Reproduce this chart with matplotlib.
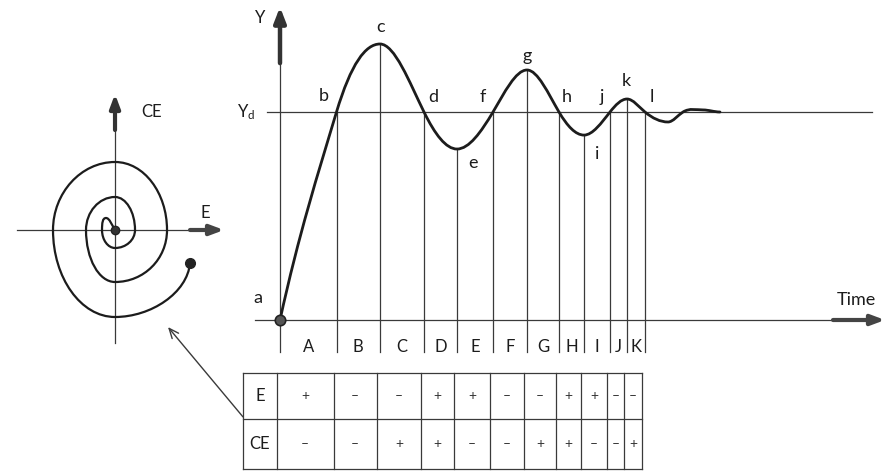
import matplotlib
matplotlib.use("Agg")
import matplotlib.pyplot as plt
import numpy as np
from matplotlib.path import Path
from matplotlib.patches import PathPatch

plt.rcParams['font.family'] = ['Lato', 'DejaVu Sans']

# --- response curve: key points (time units, Y relative to Yd = 1) ---
curve_labels = ['a', 'b', 'c', 'd', 'e', 'f', 'g', 'h', 'i', 'j', 'k', 'l']
curve_t = [0.0, 5.65, 10.0, 14.4, 17.7, 21.3, 24.7, 27.9, 30.4, 33.0, 34.7, 36.5, 38.8, 40.3, 42.3, 44.0]
curve_y = [0.0, 1.0, 1.327, 1.0, 0.822, 1.0, 1.202, 1.0, 0.889, 1.0, 1.0625, 1.0, 0.952, 1.0, 1.01, 1.0]
curve_slope = [0.22, 0.16, 0.0, -0.098, 0.0, 0.081, 0.0, -0.082, 0.0, 0.061, 0.0, -0.040, 0.0, 0.03, 0.0, 0.0]

# label positions for the curve letters
label_t = [-2.2, 4.4, 10.1, 15.3, 19.3, 20.3, 24.7, 28.7, 31.7, 32.2, 34.6, 37.2]
label_y = [0.106, 1.077, 1.41, 1.07, 0.755, 1.07, 1.27, 1.07, 0.80, 1.07, 1.15, 1.07]

# --- intervals and sign table ---
intervals = ['A', 'B', 'C', 'D', 'E', 'F', 'G', 'H', 'I', 'J', 'K']
e_signs = ['+', '\u2013', '\u2013', '+', '+', '\u2013', '\u2013', '+', '+', '\u2013', '\u2013']
ce_signs = ['\u2013', '\u2013', '+', '+', '\u2013', '\u2013', '+', '+', '\u2013', '\u2013', '+']

# --- phase plane spiral: nodes (E, CE) with tangent direction (deg) ---
spiral_e = [7.5, 0.0, -6.2, 0.0, 5.2, 0.0, -2.9, 0.0, 2.0, 0.0, -1.3, -0.9, 0.0]
spiral_ce = [-3.3, -8.7, 0.0, 6.8, 0.0, -5.2, 0.0, 3.3, 0.0, -1.8, 0.0, 1.2, 0.0]
spiral_dir = [-95, 180, 90, 0, -90, 180, 90, 0, -90, 180, 90, 0, -58]
# handle lengths leaving / entering each segment
seg_out = [3.0, 3.4, 3.7, 2.9, 2.9, 1.6, 1.8, 1.1, 1.0, 0.7, 0.7, 0.35]
seg_in = [3.6, 4.8, 3.4, 3.7, 2.9, 2.9, 1.6, 1.8, 1.1, 1.0, 0.35, 0.6]

INK = '#1c1c1c'
THIN = '#3a3a3a'

fig = plt.figure(figsize=(8.86, 4.72), dpi=100)
fig.patch.set_facecolor('white')
ax = fig.add_axes([0, 0, 1, 1])
ax.set_xlim(-28, 60.6)
ax.set_ylim(-0.7308, 1.5385)
ax.axis('off')

# Hermite nodes -> cubic Bezier path
verts = [(curve_t[0], curve_y[0])]
codes = [Path.MOVETO]
for i in range(len(curve_t) - 1):
    h = curve_t[i + 1] - curve_t[i]
    verts += [(curve_t[i] + h / 3, curve_y[i] + curve_slope[i] * h / 3),
              (curve_t[i + 1] - h / 3, curve_y[i + 1] - curve_slope[i + 1] * h / 3),
              (curve_t[i + 1], curve_y[i + 1])]
    codes += [Path.CURVE4] * 3
ax.add_patch(PathPatch(Path(verts, codes), fill=False, lw=2.0, edgecolor=INK,
                       capstyle='round', zorder=4))

# reference lines
ax.plot([-1.3, 59.2], [1, 1], color=THIN, lw=0.9, zorder=2)
ax.plot([-2.5, 56], [0, 0], color=THIN, lw=0.9, zorder=2)
ax.plot([0, 0], [-0.154, 1.25], color=THIN, lw=0.9, zorder=2)
ax.annotate('', xy=(0, 1.505), xytext=(0, 1.235),
            arrowprops=dict(arrowstyle='-|>,head_length=0.9,head_width=0.35',
                            lw=3.2, color='#333', shrinkA=0, shrinkB=0))
ax.annotate('', xy=(60.5, 0), xytext=(55.3, 0),
            arrowprops=dict(arrowstyle='-|>,head_length=0.8,head_width=0.3',
                            lw=3.0, color='#444', shrinkA=0, shrinkB=0))

# interval boundaries: from curve down past the time axis
bounds = curve_t[:12]
for t, y in zip(bounds[1:], curve_y[1:12]):
    ax.plot([t, t], [-0.154, y], color=THIN, lw=0.9, zorder=3)

ax.plot([0], [0], 'o', ms=7.5, color='#555', mec='#222', mew=1.2, zorder=6)

for lab, t, y in zip(curve_labels, label_t, label_y):
    ax.text(t, y, lab, fontsize=13, ha='center', va='center', color=INK)

ax.text(-2.0, 1.452, 'Y', fontsize=12, ha='center', va='center', color=INK)
ax.text(-3.4, 1.0, r'$\mathregular{Y_d}$', fontsize=12, ha='center', va='center', color=INK)
ax.text(57.6, 0.096, 'Time', fontsize=13, ha='center', va='center', color=INK)

for k, lab in enumerate(intervals):
    ax.text((bounds[k] + bounds[k + 1]) / 2, -0.13, lab, fontsize=12,
            ha='center', va='center', color=INK)

# sign table
tab_edges = [-0.3] + [b - 0.3 for b in bounds[1:]]
row_y = [-0.255, -0.476, -0.716]
left = -3.7
for y in row_y:
    ax.plot([left, tab_edges[-1]], [y, y], color=THIN, lw=0.9)
for x in [left] + tab_edges:
    ax.plot([x, x], [row_y[0], row_y[-1]], color=THIN, lw=0.9)
ax.text((left + tab_edges[0]) / 2, (row_y[0] + row_y[1]) / 2, 'E', fontsize=12,
        ha='center', va='center', color=INK)
ax.text((left + tab_edges[0]) / 2, (row_y[1] + row_y[2]) / 2, 'CE', fontsize=12,
        ha='center', va='center', color=INK)
for k in range(len(intervals)):
    xc = (tab_edges[k] + tab_edges[k + 1]) / 2
    ax.text(xc, (row_y[0] + row_y[1]) / 2, e_signs[k], fontsize=10,
            ha='center', va='center', color='#333')
    ax.text(xc, (row_y[1] + row_y[2]) / 2, ce_signs[k], fontsize=10,
            ha='center', va='center', color='#333')

# pointer from table to phase plane
ax.annotate('', xy=(-11.2, -0.034), xytext=(-3.7, -0.466),
            arrowprops=dict(arrowstyle='->,head_length=0.7,head_width=0.3',
                            lw=1.0, color=THIN, shrinkA=0, shrinkB=0))

# --- phase plane ---
ax2 = fig.add_axes([0, 0.2373, 0.2822, 0.5932])
ax2.set_xlim(-11.5, 13.5)
ax2.set_ylim(-13, 15)
ax2.axis('off')
ax2.patch.set_alpha(0)

ax2.plot([-9.8, 7.6], [0, 0], color=THIN, lw=0.9)
ax2.plot([0, 0], [-11.3, 10.1], color=THIN, lw=0.9)
ax2.annotate('', xy=(10.9, 0), xytext=(7.5, 0),
             arrowprops=dict(arrowstyle='-|>,head_length=0.8,head_width=0.3',
                             lw=3.0, color='#444', shrinkA=0, shrinkB=0))
ax2.annotate('', xy=(0, 13.6), xytext=(0, 10.0),
             arrowprops=dict(arrowstyle='-|>,head_length=0.8,head_width=0.3',
                             lw=3.0, color='#333', shrinkA=0, shrinkB=0))
ax2.text(3.7, 11.8, 'CE', fontsize=12, ha='center', va='center', color=INK)
ax2.text(9.0, 1.7, 'E', fontsize=12, ha='center', va='center', color=INK)

sv = [(spiral_e[0], spiral_ce[0])]
sc = [Path.MOVETO]
for i in range(len(spiral_e) - 1):
    a0 = np.radians(spiral_dir[i])
    a1 = np.radians(spiral_dir[i + 1])
    sv += [(spiral_e[i] + seg_out[i] * np.cos(a0), spiral_ce[i] + seg_out[i] * np.sin(a0)),
           (spiral_e[i + 1] - seg_in[i] * np.cos(a1), spiral_ce[i + 1] - seg_in[i] * np.sin(a1)),
           (spiral_e[i + 1], spiral_ce[i + 1])]
    sc += [Path.CURVE4] * 3
ax2.add_patch(PathPatch(Path(sv, sc), fill=False, lw=1.6, edgecolor=INK, zorder=4))
ax2.plot([spiral_e[0]], [spiral_ce[0]], 'o', ms=7, color='#222', zorder=5)
ax2.plot([0], [0], 'o', ms=6, color='#333', mec='#222', zorder=5)

fig.savefig('out.png', dpi=100, facecolor='white')
